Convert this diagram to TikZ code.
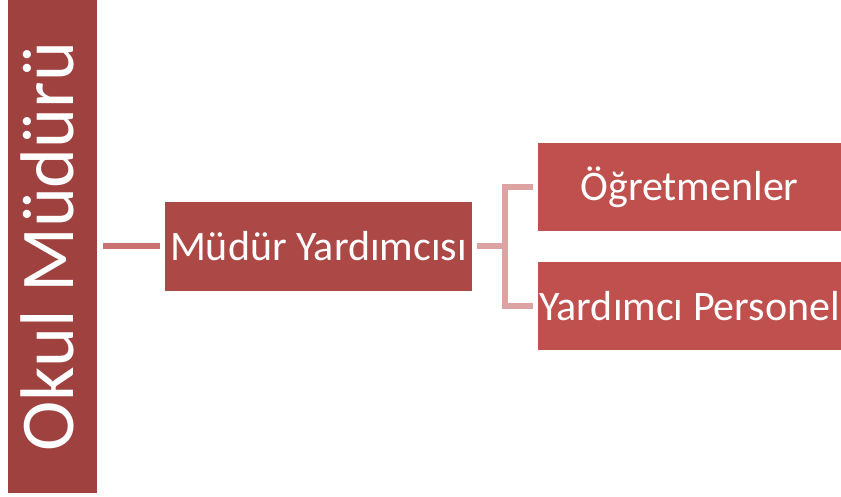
\documentclass[tikz,border=0pt]{standalone}
\usepackage{fontspec}
\setmainfont{Carlito}
\usepackage{tikz}
\usetikzlibrary{arrows.meta}
\definecolor{barred}{HTML}{9F413F}
\definecolor{midred}{HTML}{AC4845}
\definecolor{boxred}{HTML}{C0504D}
\definecolor{linkdark}{HTML}{C8726F}
\definecolor{linklight}{HTML}{DCA3A2}
\tikzset{
  box/.style={rectangle, inner sep=0pt, text=white, font=\fontsize{42}{50}\selectfont},
  link/.style={line width=6pt},
}

\begin{document}
\begin{tikzpicture}[x=1pt,y=1pt]
  \useasboundingbox (0,0) rectangle (841,-497);

  \node[box, fill=barred, rotate=90, minimum width=493pt, minimum height=89pt,
        text height=47pt, text depth=6pt, font=\fontsize{76}{90}\selectfont]
        (okul) at (52.5,-246.5) {Okul Müdürü};
  \node[box, fill=midred, minimum width=307pt, minimum height=88pt] (yard) at (318.5,-246.5) {Müdür Yardımcısı};
  \node[box, fill=boxred, minimum width=303pt, minimum height=88pt] (ogret) at (689.5,-187) {Öğretmenler};
  \node[box, fill=boxred, minimum width=303pt, minimum height=88pt] (pers) at (689.5,-306) {Yardımcı Personel};

  \coordinate (fork) at (505,-246.5);

  \draw[link, linkdark, shorten <=6pt, shorten >=5pt](okul.south)--(yard.west);
  \draw[link, linklight, shorten <=5pt](yard.east)--(fork);
  \draw[link, linklight, shorten >=5pt](fork)|-(ogret.west);
  \draw[link, linklight, shorten >=5pt](fork)|-(pers.west);
\end{tikzpicture}
\end{document}
